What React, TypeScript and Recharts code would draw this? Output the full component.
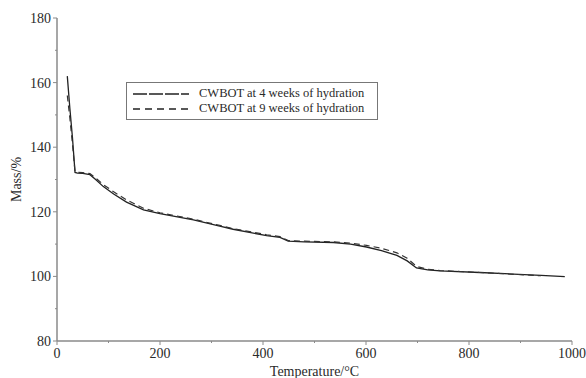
import { LineChart, Line, XAxis, YAxis, Legend } from 'recharts';

// temperature (°C) and mass (%)
const temps = [20, 25, 30, 35, 40, 50, 64, 75, 90, 110, 135, 168, 200, 265, 316, 342, 407, 433, 449, 480, 537, 570, 601, 630, 660, 680, 698, 720, 744, 821, 918, 940, 986];
const week4 = [162, 152, 143, 132.2, 132, 131.9, 131.5, 130, 127.8, 125.5, 123, 120.6, 119.4, 117.5, 115.6, 114.6, 112.6, 112.1, 110.9, 110.7, 110.5, 110.0, 109.1, 108.0, 106.5, 104.8, 102.6, 102, 101.7, 101.2, 100.5, 100.3, 99.9];
const week9 = [156, 149, 141, 132.4, 132.2, 132.1, 131.8, 130.5, 128.4, 126.2, 123.7, 121.1, 119.7, 117.7, 115.8, 114.8, 112.9, 112.3, 111.1, 110.9, 110.7, 110.3, 109.6, 108.7, 107.3, 105.6, 103.1, 102.2, 101.8, 101.2, 100.4, 100.2, null];

const xTicks = [0, 100, 200, 300, 400, 500, 600, 700, 800, 900, 1000];
const yTicks = [80, 90, 100, 110, 120, 130, 140, 150, 160, 170, 180];

const seriesNames = ['CWBOT at 4 weeks of hydration', 'CWBOT at 9 weeks of hydration'];

const data = temps.map((t, i) => ({ t, a: week4[i], b: week9[i] }));

const font = 'Liberation Serif, Times New Roman, serif';
const axisColor = '#8a8a8a';
const textColor = '#2a2a2a';

function XTick({ x, y, payload }: any) {
  const major = payload.value % 200 === 0;
  return (
    <g>
      <line x1={x} x2={x} y1={y} y2={y + (major ? 4 : 2)} stroke={axisColor} strokeWidth={1} />
      {major && (
        <text x={x} y={y + 17} textAnchor="middle" fontSize={14} fontFamily={font} fill={textColor}>
          {payload.value}
        </text>
      )}
    </g>
  );
}

function YTick({ x, y, payload }: any) {
  const major = payload.value % 20 === 0;
  return (
    <g>
      <line x1={x} x2={x - (major ? 4 : 2)} y1={y} y2={y} stroke={axisColor} strokeWidth={1} />
      {major && (
        <text x={x - 6} y={y + 5} textAnchor="end" fontSize={14} fontFamily={font} fill={textColor}>
          {payload.value}
        </text>
      )}
    </g>
  );
}

function LegendBox() {
  return (
    <div
      style={{
        border: '1px solid #777',
        background: '#fff',
        padding: '3px 6px',
        fontFamily: font,
        fontSize: 12.5,
        color: textColor,
        lineHeight: '15px',
      }}
    >
      {seriesNames.map((n, i) => (
        <div key={n} style={{ display: 'flex', alignItems: 'center' }}>
          <svg width={62} height={12}>
            <line x1={0} x2={56} y1={6} y2={6} stroke="#222" strokeWidth={1.4} strokeDasharray={i === 0 ? '14 2' : '7 5'} />
          </svg>
          <span style={{ marginLeft: 4 }}>{n}</span>
        </div>
      ))}
    </div>
  );
}

export default function App() {
  return (
    <div style={{ position: 'absolute', left: 0, top: 0, width: 586, height: 378, background: '#fff' }}>
      <LineChart width={586} height={378} data={data} margin={{ top: 18, right: 14, bottom: 0, left: 0 }}>
        <XAxis
          dataKey="t"
          type="number"
          domain={[0, 1000]}
          ticks={xTicks}
          interval={0}
          height={37}
          tickSize={0}
          tickMargin={0}
          tickLine={false}
          tick={<XTick />}
          stroke={axisColor}
          strokeWidth={1.5}
          label={{ value: 'Temperature/°C', position: 'insideBottom', offset: 2, fontSize: 14, fontFamily: font, fill: textColor }}
        />
        <XAxis xAxisId="top" orientation="top" type="number" domain={[0, 1000]} height={0} tick={false} tickLine={false} stroke={axisColor} strokeWidth={1.5} />
        <YAxis
          type="number"
          domain={[80, 180]}
          ticks={yTicks}
          interval={0}
          width={57}
          tickSize={0}
          tickMargin={0}
          tickLine={false}
          tick={<YTick />}
          stroke={axisColor}
          strokeWidth={1.5}
          label={{ value: 'Mass/%', angle: -90, position: 'insideLeft', offset: 16, fontSize: 14, fontFamily: font, fill: textColor, style: { textAnchor: 'middle' } }}
        />
        <YAxis yAxisId="right" orientation="right" type="number" domain={[80, 180]} width={0} tick={false} tickLine={false} stroke={axisColor} strokeWidth={1.5} />
        <Legend
          layout="vertical"
          verticalAlign="middle"
          align="center"
          content={<LegendBox />}
          wrapperStyle={{ left: 126, top: 82, width: 252, height: 'auto' }}
        />
        <Line dataKey="a" name={seriesNames[0]} stroke="#222" strokeWidth={1.3} dot={false} isAnimationActive={false} />
        <Line dataKey="b" name={seriesNames[1]} stroke="#333" strokeWidth={1.2} strokeDasharray="6 4" dot={false} isAnimationActive={false} connectNulls={false} />
      </LineChart>
    </div>
  );
}
